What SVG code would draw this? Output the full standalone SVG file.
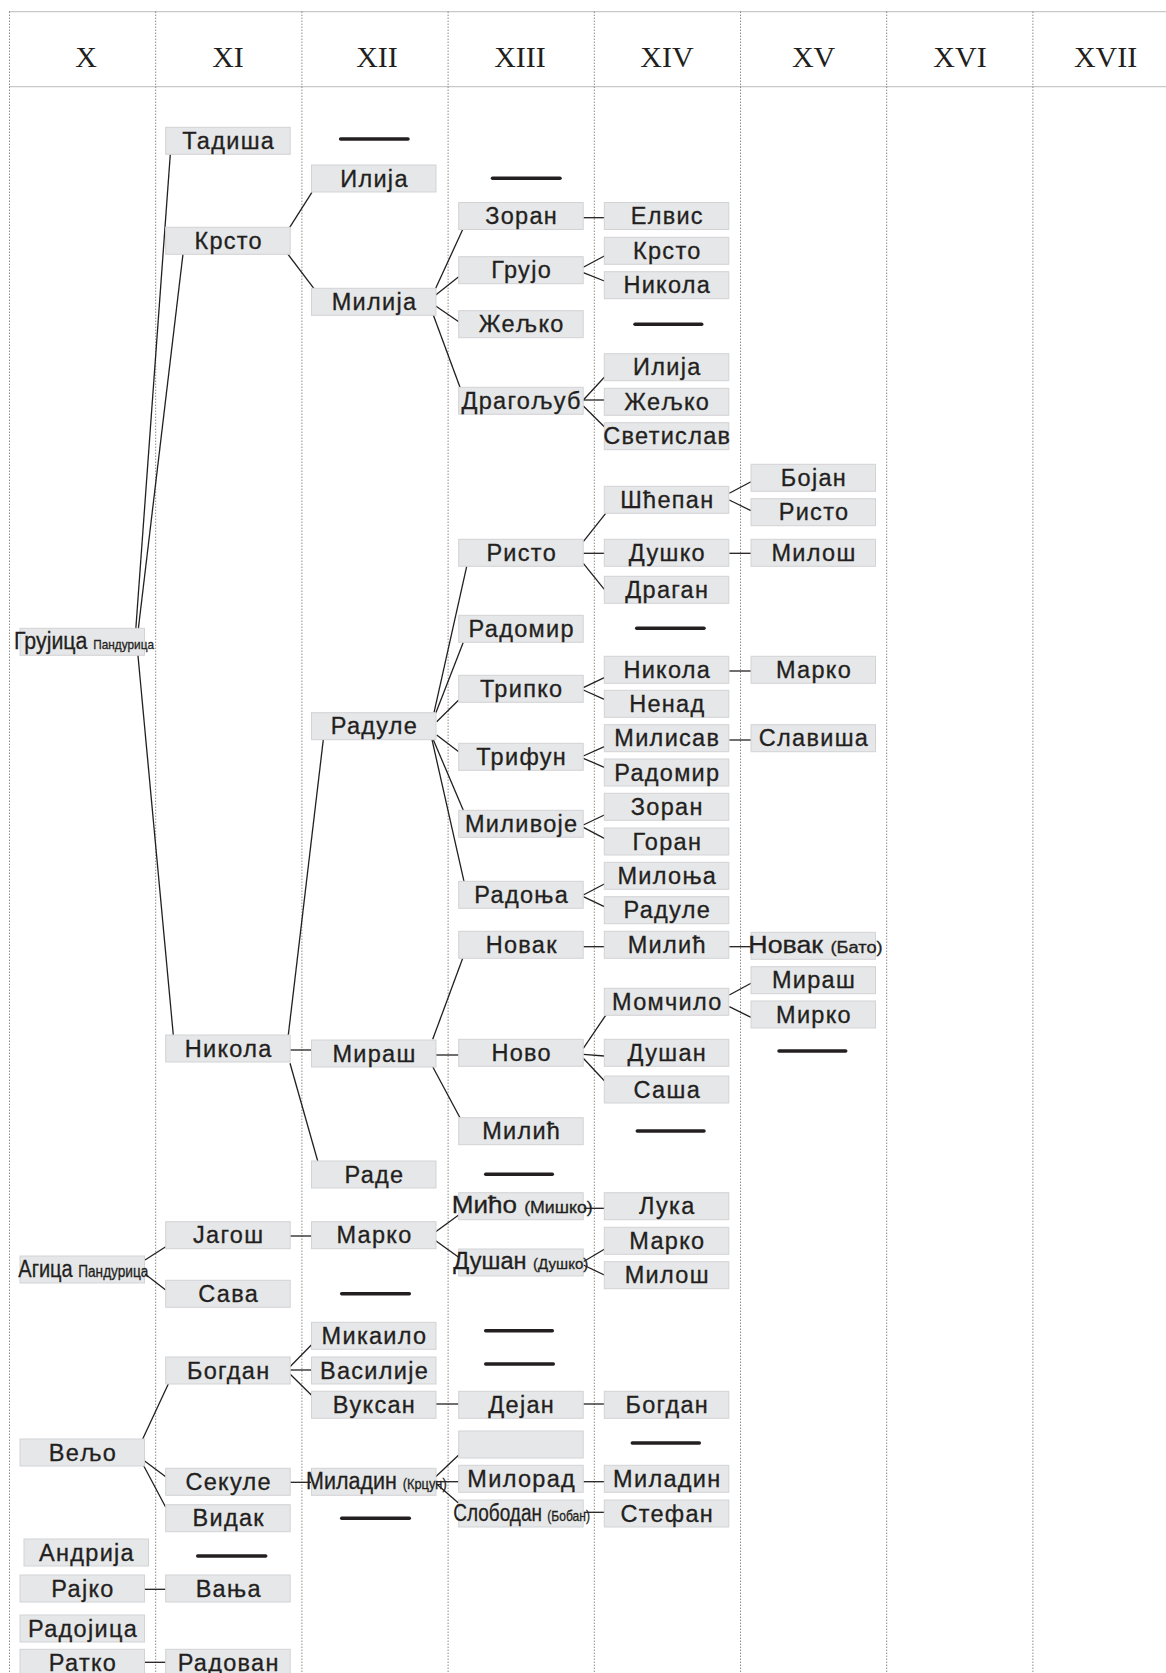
<svg xmlns="http://www.w3.org/2000/svg" width="1166" height="1673" viewBox="0 0 1166 1673">
<style>
.bx{fill:#e6e7e8;stroke:#d2d3d5;stroke-width:1}
.t{font-family:"Liberation Sans",Arial,sans-serif;font-size:23.5px;fill:#231f20;stroke:#231f20;stroke-width:0.3;text-anchor:middle;letter-spacing:1.3px}
.s{font-family:"Liberation Sans",Arial,sans-serif;font-size:23.5px;fill:#231f20;stroke:#231f20;stroke-width:0.3;text-anchor:start}
.c{stroke:#231f20;stroke-width:1.3;fill:none}
.d{stroke:#231f20;stroke-width:3.5;stroke-linecap:round}
.g{stroke:#555;stroke-width:1;stroke-dasharray:1 2}
.gh{stroke:#777;stroke-width:1;stroke-dasharray:1 1}
.h{font-family:"Liberation Serif","Times New Roman",serif;font-size:30px;text-anchor:middle;fill:#231f20}
</style>
<rect width="1166" height="1673" fill="#fff"/>
<g id="grid">
<line class="gh" x1="9.5" y1="11.7" x2="1166" y2="11.7"/>
<line class="gh" x1="9.5" y1="86.7" x2="1166" y2="86.7"/>
<line class="g" x1="9.5" y1="11.7" x2="9.5" y2="1673"/>
<line class="g" x1="155.7" y1="11.7" x2="155.7" y2="1673"/>
<line class="g" x1="301.9" y1="11.7" x2="301.9" y2="1673"/>
<line class="g" x1="448.1" y1="11.7" x2="448.1" y2="1673"/>
<line class="g" x1="594.3" y1="11.7" x2="594.3" y2="1673"/>
<line class="g" x1="740.5" y1="11.7" x2="740.5" y2="1673"/>
<line class="g" x1="886.7" y1="11.7" x2="886.7" y2="1673"/>
<line class="g" x1="1032.9" y1="11.7" x2="1032.9" y2="1673"/>
<text class="h" x="86" y="66.7">X</text>
<text class="h" x="228" y="66.7">XI</text>
<text class="h" x="377" y="66.7">XII</text>
<text class="h" x="520" y="66.7">XIII</text>
<text class="h" x="667" y="66.7">XIV</text>
<text class="h" x="813.6" y="66.7">XV</text>
<text class="h" x="960" y="66.7">XVI</text>
<text class="h" x="1105.6" y="66.7">XVII</text>
</g>
<g id="connectors">
<line class="c" x1="135" y1="640" x2="170.3" y2="154.3"/>
<line class="c" x1="137" y1="640" x2="183" y2="254"/>
<line class="c" x1="137" y1="645" x2="173.3" y2="1035"/>
<line class="c" x1="289.7" y1="227.3" x2="311.9" y2="192.3"/>
<line class="c" x1="287.8" y1="254" x2="313.8" y2="288.3"/>
<line class="c" x1="435.7" y1="288.3" x2="462.7" y2="229.5"/>
<line class="c" x1="435.7" y1="295" x2="458.7" y2="276.7"/>
<line class="c" x1="435.7" y1="306" x2="458.7" y2="321.7"/>
<line class="c" x1="433.3" y1="315" x2="460" y2="387.3"/>
<line class="c" x1="583.3" y1="217.7" x2="604.3" y2="217.7"/>
<line class="c" x1="583.3" y1="267.3" x2="604.3" y2="256"/>
<line class="c" x1="583.3" y1="272.7" x2="604.3" y2="281"/>
<line class="c" x1="583.3" y1="400" x2="604.3" y2="377.3"/>
<line class="c" x1="583.3" y1="400" x2="604.3" y2="400"/>
<line class="c" x1="583.3" y1="406" x2="604.3" y2="426.7"/>
<line class="c" x1="288.3" y1="1035" x2="323.3" y2="739.7"/>
<line class="c" x1="290" y1="1050" x2="311.7" y2="1050"/>
<line class="c" x1="290" y1="1063.3" x2="317.7" y2="1161"/>
<line class="c" x1="434" y1="712.7" x2="466.7" y2="566.3"/>
<line class="c" x1="435.7" y1="713.3" x2="463.3" y2="642.3"/>
<line class="c" x1="436.7" y1="721.7" x2="458.7" y2="700"/>
<line class="c" x1="436.7" y1="735" x2="458.7" y2="751.7"/>
<line class="c" x1="433.3" y1="739.7" x2="463.3" y2="810.3"/>
<line class="c" x1="432" y1="739.7" x2="464" y2="881.3"/>
<line class="c" x1="583.3" y1="541.7" x2="605.7" y2="513.3"/>
<line class="c" x1="583.3" y1="553.3" x2="604.3" y2="553.3"/>
<line class="c" x1="583.3" y1="563.3" x2="604.3" y2="589.3"/>
<line class="c" x1="729.3" y1="493.3" x2="751" y2="481.7"/>
<line class="c" x1="729.3" y1="500" x2="751" y2="510.7"/>
<line class="c" x1="729.3" y1="553.3" x2="751" y2="553.3"/>
<line class="c" x1="583.3" y1="687.7" x2="604.3" y2="677.7"/>
<line class="c" x1="583.3" y1="690" x2="604.3" y2="699.3"/>
<line class="c" x1="729.3" y1="671" x2="751" y2="671"/>
<line class="c" x1="583.3" y1="756" x2="604.3" y2="746.7"/>
<line class="c" x1="583.3" y1="758.3" x2="604.3" y2="767.3"/>
<line class="c" x1="729.3" y1="740" x2="751" y2="740"/>
<line class="c" x1="583.3" y1="825" x2="604.3" y2="815"/>
<line class="c" x1="583.3" y1="827.3" x2="604.3" y2="838.3"/>
<line class="c" x1="583.3" y1="895" x2="604.3" y2="884"/>
<line class="c" x1="583.3" y1="896.7" x2="604.3" y2="906.7"/>
<line class="c" x1="583.3" y1="946.7" x2="604.3" y2="946.7"/>
<line class="c" x1="729.3" y1="946.7" x2="751.7" y2="946.7"/>
<line class="c" x1="432.7" y1="1039.3" x2="462.7" y2="958.3"/>
<line class="c" x1="435.7" y1="1055" x2="458.7" y2="1055"/>
<line class="c" x1="432.7" y1="1066.7" x2="460" y2="1117.7"/>
<line class="c" x1="583.3" y1="1048.3" x2="605.7" y2="1015.3"/>
<line class="c" x1="583.3" y1="1054.3" x2="604.3" y2="1056"/>
<line class="c" x1="583.3" y1="1058.3" x2="604.3" y2="1080.7"/>
<line class="c" x1="729.3" y1="995" x2="751" y2="983.3"/>
<line class="c" x1="729.3" y1="1006.7" x2="751" y2="1017.3"/>
<line class="c" x1="145" y1="1260" x2="165.7" y2="1246.7"/>
<line class="c" x1="145" y1="1274" x2="165.7" y2="1290"/>
<line class="c" x1="290" y1="1236" x2="311.3" y2="1236"/>
<line class="c" x1="435.7" y1="1231.7" x2="458.7" y2="1215"/>
<line class="c" x1="435.7" y1="1240.7" x2="458.7" y2="1257.3"/>
<line class="c" x1="583.3" y1="1208.3" x2="604.3" y2="1208.3"/>
<line class="c" x1="583.3" y1="1261.7" x2="604.3" y2="1249.3"/>
<line class="c" x1="583.3" y1="1265" x2="604.3" y2="1275"/>
<line class="c" x1="142.7" y1="1439" x2="168.3" y2="1384"/>
<line class="c" x1="290" y1="1366.7" x2="311.3" y2="1345"/>
<line class="c" x1="290" y1="1370" x2="311.3" y2="1370"/>
<line class="c" x1="290" y1="1374" x2="311.3" y2="1395"/>
<line class="c" x1="436" y1="1404" x2="458.7" y2="1404"/>
<line class="c" x1="583.3" y1="1404" x2="604.3" y2="1404"/>
<line class="c" x1="143.3" y1="1460" x2="165.7" y2="1476.7"/>
<line class="c" x1="143.3" y1="1465" x2="165.7" y2="1507.3"/>
<line class="c" x1="290" y1="1482.3" x2="311.3" y2="1482.3"/>
<line class="c" x1="435.7" y1="1476.7" x2="458.7" y2="1455"/>
<line class="c" x1="435.7" y1="1481.7" x2="458.7" y2="1481.7"/>
<line class="c" x1="435.7" y1="1483.3" x2="458.7" y2="1503.3"/>
<line class="c" x1="583.3" y1="1481.7" x2="604.3" y2="1481.7"/>
<line class="c" x1="583.3" y1="1512.3" x2="604.3" y2="1512.3"/>
<line class="c" x1="144.5" y1="1589.3" x2="165.7" y2="1589.3"/>
<line class="c" x1="144.5" y1="1662.3" x2="165.7" y2="1662.3"/>
</g>
<g id="no-descendants">
<line class="d" x1="340.6" y1="139" x2="408" y2="139"/>
<line class="d" x1="492.5" y1="178.3" x2="560" y2="178.3"/>
<line class="d" x1="635" y1="324.3" x2="701.7" y2="324.3"/>
<line class="d" x1="636.7" y1="628.3" x2="704" y2="628.3"/>
<line class="d" x1="779" y1="1051" x2="845.7" y2="1051"/>
<line class="d" x1="637.3" y1="1131" x2="704" y2="1131"/>
<line class="d" x1="485.7" y1="1174.3" x2="552.3" y2="1174.3"/>
<line class="d" x1="341.7" y1="1293.7" x2="409.3" y2="1293.7"/>
<line class="d" x1="485.7" y1="1330.7" x2="552.3" y2="1330.7"/>
<line class="d" x1="485.7" y1="1364" x2="553.3" y2="1364"/>
<line class="d" x1="632.3" y1="1443" x2="699.3" y2="1443"/>
<line class="d" x1="341.7" y1="1518.3" x2="409.3" y2="1518.3"/>
<line class="d" x1="197.7" y1="1556" x2="265.7" y2="1556"/>
</g>
<g id="nodes">
<g id="x-grujica"><rect class="bx" x="20" y="628.3" width="124.5" height="27"/><text class="s" x="14" y="649.3" textLength="140" lengthAdjust="spacingAndGlyphs" font-size="25">Грујица <tspan font-size="13">Пандурица</tspan></text></g>
<g id="x-agica"><rect class="bx" x="20" y="1256" width="124.5" height="27"/><text class="s" x="18.3" y="1276.7" textLength="130" lengthAdjust="spacingAndGlyphs" font-size="22">Агица <tspan font-size="16">Пандурица</tspan></text></g>
<g id="x-veljo"><rect class="bx" x="20" y="1439" width="124.5" height="27"/><text class="t" x="83" y="1460.6">Вељо</text></g>
<g id="x-andrija"><rect class="bx" x="24" y="1539" width="124.5" height="27"/><text class="t" x="87" y="1560.6">Андрија</text></g>
<g id="x-rajko"><rect class="bx" x="20" y="1575" width="124.5" height="27"/><text class="t" x="83" y="1596.6">Рајко</text></g>
<g id="x-radojica"><rect class="bx" x="20" y="1615" width="124.5" height="27"/><text class="t" x="83" y="1636.6">Радојица</text></g>
<g id="x-ratko"><rect class="bx" x="20" y="1649.3" width="124.5" height="27"/><text class="t" x="83" y="1670.9">Ратко</text></g>

<g id="xi-tadisha"><rect class="bx" x="165.7" y="127.3" width="124.5" height="27"/><text class="t" x="228.7" y="148.9">Тадиша</text></g>
<g id="xi-krsto"><rect class="bx" x="165.7" y="227.3" width="124.5" height="27"/><text class="t" x="228.7" y="248.9">Крсто</text></g>
<g id="xi-nikola"><rect class="bx" x="165.7" y="1035" width="124.5" height="27"/><text class="t" x="228.7" y="1056.6">Никола</text></g>
<g id="xi-jagosh"><rect class="bx" x="165.7" y="1221.7" width="124.5" height="27"/><text class="t" x="228.7" y="1243.3">Јагош</text></g>
<g id="xi-sava"><rect class="bx" x="165.7" y="1280.3" width="124.5" height="27"/><text class="t" x="228.7" y="1301.9">Сава</text></g>
<g id="xi-bogdan"><rect class="bx" x="165.7" y="1357" width="124.5" height="27"/><text class="t" x="228.7" y="1378.6">Богдан</text></g>
<g id="xi-sekule"><rect class="bx" x="165.7" y="1468.3" width="124.5" height="27"/><text class="t" x="228.7" y="1489.9">Секуле</text></g>
<g id="xi-vidak"><rect class="bx" x="165.7" y="1504.7" width="124.5" height="27"/><text class="t" x="228.7" y="1526.3">Видак</text></g>
<g id="xi-vanja"><rect class="bx" x="165.7" y="1575" width="124.5" height="27"/><text class="t" x="228.7" y="1596.6">Вања</text></g>
<g id="xi-radovan"><rect class="bx" x="165.7" y="1649.3" width="124.5" height="27"/><text class="t" x="228.7" y="1670.9">Радован</text></g>

<g id="xii-ilija"><rect class="bx" x="311.5" y="165" width="124.5" height="27"/><text class="t" x="374.5" y="186.6">Илија</text></g>
<g id="xii-milija"><rect class="bx" x="311.5" y="288.3" width="124.5" height="27"/><text class="t" x="374.5" y="309.9">Милија</text></g>
<g id="xii-radule"><rect class="bx" x="311.5" y="712.7" width="124.5" height="27"/><text class="t" x="374.5" y="734.3">Радуле</text></g>
<g id="xii-mirash"><rect class="bx" x="311.5" y="1040" width="124.5" height="27"/><text class="t" x="374.5" y="1061.6">Мираш</text></g>
<g id="xii-rade"><rect class="bx" x="311.5" y="1161" width="124.5" height="27"/><text class="t" x="374.5" y="1182.6">Раде</text></g>
<g id="xii-marko"><rect class="bx" x="311.5" y="1221.7" width="124.5" height="27"/><text class="t" x="374.5" y="1243.3">Марко</text></g>
<g id="xii-mikailo"><rect class="bx" x="311.5" y="1322.3" width="124.5" height="27"/><text class="t" x="374.5" y="1343.9">Микаило</text></g>
<g id="xii-vasilije"><rect class="bx" x="311.5" y="1357" width="124.5" height="27"/><text class="t" x="374.5" y="1378.6">Василије</text></g>
<g id="xii-vuksan"><rect class="bx" x="311.5" y="1391.3" width="124.5" height="27"/><text class="t" x="374.5" y="1412.9">Вуксан</text></g>
<g id="xii-miladin"><rect class="bx" x="311.5" y="1468.3" width="124.5" height="27"/><text class="s" x="306" y="1489" textLength="140.7" lengthAdjust="spacingAndGlyphs" font-size="21">Миладин <tspan font-size="14">(Крцун)</tspan></text></g>

<g id="xiii-zoran"><rect class="bx" x="458.7" y="202.5" width="124.5" height="27"/><text class="t" x="521.7" y="224.1">Зоран</text></g>
<g id="xiii-grujo"><rect class="bx" x="458.7" y="256.7" width="124.5" height="27"/><text class="t" x="521.7" y="278.3">Грујо</text></g>
<g id="xiii-zheljko"><rect class="bx" x="458.7" y="310.7" width="124.5" height="27"/><text class="t" x="521.7" y="332.3">Жељко</text></g>
<g id="xiii-dragoljub"><rect class="bx" x="458.7" y="387.3" width="124.5" height="27"/><text class="t" x="521.7" y="408.9">Драгољуб</text></g>
<g id="xiii-risto"><rect class="bx" x="458.7" y="539.3" width="124.5" height="27"/><text class="t" x="521.7" y="560.9">Ристо</text></g>
<g id="xiii-radomir"><rect class="bx" x="458.7" y="615.3" width="124.5" height="27"/><text class="t" x="521.7" y="636.9">Радомир</text></g>
<g id="xiii-tripko"><rect class="bx" x="458.7" y="675.3" width="124.5" height="27"/><text class="t" x="521.7" y="696.9">Трипко</text></g>
<g id="xiii-trifun"><rect class="bx" x="458.7" y="743.3" width="124.5" height="27"/><text class="t" x="521.7" y="764.9">Трифун</text></g>
<g id="xiii-milivoje"><rect class="bx" x="458.7" y="810.3" width="124.5" height="27"/><text class="t" x="521.7" y="831.9">Миливоје</text></g>
<g id="xiii-radonja"><rect class="bx" x="458.7" y="881.3" width="124.5" height="27"/><text class="t" x="521.7" y="902.9">Радоња</text></g>
<g id="xiii-novak"><rect class="bx" x="458.7" y="931.3" width="124.5" height="27"/><text class="t" x="521.7" y="952.9">Новак</text></g>
<g id="xiii-novo"><rect class="bx" x="458.7" y="1039.3" width="124.5" height="27"/><text class="t" x="521.7" y="1060.9">Ново</text></g>
<g id="xiii-milic"><rect class="bx" x="458.7" y="1117.7" width="124.5" height="27"/><text class="t" x="521.7" y="1139.3">Милић</text></g>
<g id="xiii-mico"><rect class="bx" x="458.7" y="1192.7" width="124.5" height="27"/><text class="s" x="451.7" y="1213.3" textLength="141" lengthAdjust="spacingAndGlyphs">Мићо <tspan font-size="16">(Мишко)</tspan></text></g>
<g id="xiii-dushan"><rect class="bx" x="458.7" y="1249" width="124.5" height="27"/><text class="s" x="453.3" y="1269.3" textLength="135" lengthAdjust="spacingAndGlyphs">Душан <tspan font-size="15">(Душко)</tspan></text></g>
<g id="xiii-dejan"><rect class="bx" x="458.7" y="1391.3" width="124.5" height="27"/><text class="t" x="521.7" y="1412.9">Дејан</text></g>
<g id="xiii-empty"><rect class="bx" x="458.7" y="1431" width="124.5" height="27"/></g>
<g id="xiii-milorad"><rect class="bx" x="458.7" y="1465.3" width="124.5" height="27"/><text class="t" x="521.7" y="1486.9">Милорад</text></g>
<g id="xiii-slobodan"><rect class="bx" x="458.7" y="1500" width="124.5" height="27"/><text class="s" x="453.3" y="1520.7" textLength="136.7" lengthAdjust="spacingAndGlyphs" font-size="22">Слободан <tspan font-size="15">(Бобан)</tspan></text></g>

<g id="xiv-elvis"><rect class="bx" x="604.3" y="202.5" width="124.5" height="27"/><text class="t" x="667.3" y="224.1">Елвис</text></g>
<g id="xiv-krsto"><rect class="bx" x="604.3" y="237.3" width="124.5" height="27"/><text class="t" x="667.3" y="258.9">Крсто</text></g>
<g id="xiv-nikola1"><rect class="bx" x="604.3" y="271.7" width="124.5" height="27"/><text class="t" x="667.3" y="293.3">Никола</text></g>
<g id="xiv-ilija"><rect class="bx" x="604.3" y="353.7" width="124.5" height="27"/><text class="t" x="667.3" y="375.3">Илија</text></g>
<g id="xiv-zheljko"><rect class="bx" x="604.3" y="388.3" width="124.5" height="27"/><text class="t" x="667.3" y="409.9">Жељко</text></g>
<g id="xiv-svetislav"><rect class="bx" x="604.3" y="422.7" width="124.5" height="27"/><text class="t" x="667.3" y="444.3">Светислав</text></g>
<g id="xiv-shcepan"><rect class="bx" x="604.3" y="486.3" width="124.5" height="27"/><text class="t" x="667.3" y="507.9">Шћепан</text></g>
<g id="xiv-dushko"><rect class="bx" x="604.3" y="539.3" width="124.5" height="27"/><text class="t" x="667.3" y="560.9">Душко</text></g>
<g id="xiv-dragan"><rect class="bx" x="604.3" y="576.3" width="124.5" height="27"/><text class="t" x="667.3" y="597.9">Драган</text></g>
<g id="xiv-nikola2"><rect class="bx" x="604.3" y="656.3" width="124.5" height="27"/><text class="t" x="667.3" y="677.9">Никола</text></g>
<g id="xiv-nenad"><rect class="bx" x="604.3" y="690.3" width="124.5" height="27"/><text class="t" x="667.3" y="711.9">Ненад</text></g>
<g id="xiv-milisav"><rect class="bx" x="604.3" y="724.7" width="124.5" height="27"/><text class="t" x="667.3" y="746.3">Милисав</text></g>
<g id="xiv-radomir"><rect class="bx" x="604.3" y="759" width="124.5" height="27"/><text class="t" x="667.3" y="780.6">Радомир</text></g>
<g id="xiv-zoran"><rect class="bx" x="604.3" y="793.3" width="124.5" height="27"/><text class="t" x="667.3" y="814.9">Зоран</text></g>
<g id="xiv-goran"><rect class="bx" x="604.3" y="828" width="124.5" height="27"/><text class="t" x="667.3" y="849.6">Горан</text></g>
<g id="xiv-milonja"><rect class="bx" x="604.3" y="862.3" width="124.5" height="27"/><text class="t" x="667.3" y="883.9">Милоња</text></g>
<g id="xiv-radule"><rect class="bx" x="604.3" y="896.7" width="124.5" height="27"/><text class="t" x="667.3" y="918.3">Радуле</text></g>
<g id="xiv-milic"><rect class="bx" x="604.3" y="931.3" width="124.5" height="27"/><text class="t" x="667.3" y="952.9">Милић</text></g>
<g id="xiv-momcilo"><rect class="bx" x="604.3" y="988.3" width="124.5" height="27"/><text class="t" x="667.3" y="1009.9">Момчило</text></g>
<g id="xiv-dushan"><rect class="bx" x="604.3" y="1039.3" width="124.5" height="27"/><text class="t" x="667.3" y="1060.9">Душан</text></g>
<g id="xiv-sasha"><rect class="bx" x="604.3" y="1076" width="124.5" height="27"/><text class="t" x="667.3" y="1097.6">Саша</text></g>
<g id="xiv-luka"><rect class="bx" x="604.3" y="1192.7" width="124.5" height="27"/><text class="t" x="667.3" y="1214.3">Лука</text></g>
<g id="xiv-marko"><rect class="bx" x="604.3" y="1227.3" width="124.5" height="27"/><text class="t" x="667.3" y="1248.9">Марко</text></g>
<g id="xiv-milosh"><rect class="bx" x="604.3" y="1261.7" width="124.5" height="27"/><text class="t" x="667.3" y="1283.3">Милош</text></g>
<g id="xiv-bogdan"><rect class="bx" x="604.3" y="1391.3" width="124.5" height="27"/><text class="t" x="667.3" y="1412.9">Богдан</text></g>
<g id="xiv-miladin"><rect class="bx" x="604.3" y="1465.3" width="124.5" height="27"/><text class="t" x="667.3" y="1486.9">Миладин</text></g>
<g id="xiv-stefan"><rect class="bx" x="604.3" y="1500" width="124.5" height="27"/><text class="t" x="667.3" y="1521.6">Стефан</text></g>

<g id="xv-bojan"><rect class="bx" x="751" y="464.3" width="124.5" height="27"/><text class="t" x="814" y="485.9">Бојан</text></g>
<g id="xv-risto"><rect class="bx" x="751" y="498.7" width="124.5" height="27"/><text class="t" x="814" y="520.3">Ристо</text></g>
<g id="xv-milosh"><rect class="bx" x="751" y="539.3" width="124.5" height="27"/><text class="t" x="814" y="560.9">Милош</text></g>
<g id="xv-marko"><rect class="bx" x="751" y="656.3" width="124.5" height="27"/><text class="t" x="814" y="677.9">Марко</text></g>
<g id="xv-slavisha"><rect class="bx" x="751" y="724.7" width="124.5" height="27"/><text class="t" x="814" y="746.3">Славиша</text></g>
<g id="xv-novak"><rect class="bx" x="751" y="932.3" width="124.5" height="27"/><text class="s" x="748.3" y="953.3" textLength="134.4" lengthAdjust="spacingAndGlyphs">Новак <tspan font-size="16">(Бато)</tspan></text></g>
<g id="xv-mirash"><rect class="bx" x="751" y="966.7" width="124.5" height="27"/><text class="t" x="814" y="988.3">Мираш</text></g>
<g id="xv-mirko"><rect class="bx" x="751" y="1001" width="124.5" height="27"/><text class="t" x="814" y="1022.6">Мирко</text></g>
</g>
</svg>
